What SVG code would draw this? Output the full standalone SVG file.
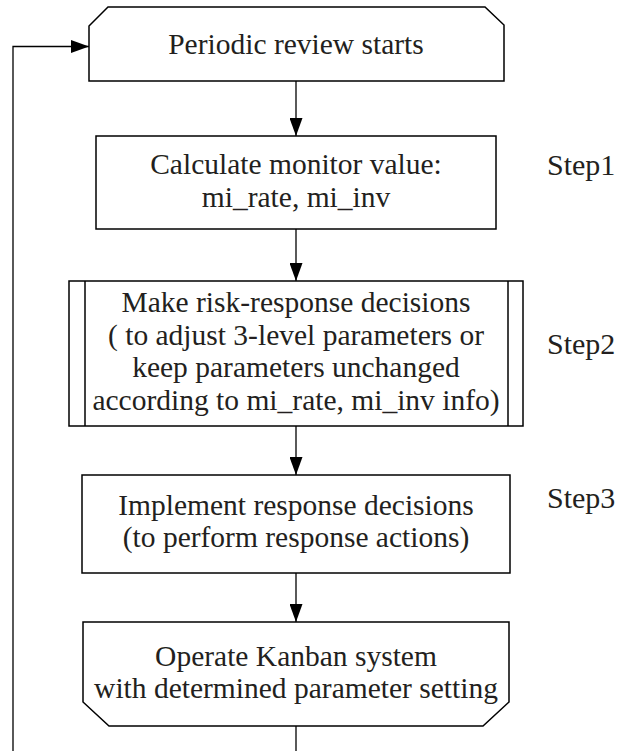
<svg xmlns="http://www.w3.org/2000/svg" width="630" height="751" viewBox="0 0 630 751">
<defs>
<marker id="arr" viewBox="0 0 18 13" refX="18" refY="6.5" markerWidth="18" markerHeight="13" markerUnits="userSpaceOnUse" orient="auto">
<path d="M0,0 L18,6.5 L0,13 Z" fill="#000"/>
</marker>
<style>
.box{fill:#fff;stroke:#000;stroke-width:1.5}
.ln{fill:none;stroke:#000;stroke-width:1.3}
text{font-family:"Liberation Serif","Times New Roman",serif;font-size:29.5px;fill:#231f20}
.c{text-anchor:middle}
.s{font-size:30px}
</style>
</defs>
<rect width="630" height="751" fill="#fff"/>
<g id="connectors">
<line class="ln" x1="296" y1="81" x2="296" y2="136" marker-end="url(#arr)"/>
<line class="ln" x1="296" y1="229" x2="296" y2="281" marker-end="url(#arr)"/>
<line class="ln" x1="296" y1="426" x2="296" y2="475" marker-end="url(#arr)"/>
<line class="ln" x1="296" y1="573" x2="296" y2="622" marker-end="url(#arr)"/>
<line class="ln" x1="296" y1="726" x2="296" y2="751"/>
<polyline class="ln" points="13,751 13,46.5 89,46.5" marker-end="url(#arr)"/>
</g>
<g id="start">
<path class="box" d="M89,26 L108,7 L485,7 L504,25 L504,81 L89,81 Z"/>
<text class="c" x="296" y="53.5">Periodic review starts</text>
</g>
<g id="step1">
<rect class="box" x="96" y="136" width="400" height="93"/>
<text class="c" x="296" y="174">Calculate monitor value:</text>
<text class="c" x="296" y="207">mi_rate, mi_inv</text>
</g>
<g id="step2">
<rect class="box" x="69" y="281" width="454" height="145"/>
<line class="box" x1="85" y1="281" x2="85" y2="426"/>
<line class="box" x1="508" y1="281" x2="508" y2="426"/>
<text class="c" x="296" y="312">Make risk-response decisions</text>
<text class="c" x="296" y="344.5">( to adjust 3-level parameters or</text>
<text class="c" x="296" y="377">keep parameters unchanged</text>
<text class="c" x="296" y="409.5">according to mi_rate, mi_inv info)</text>
</g>
<g id="step3">
<rect class="box" x="82" y="475" width="428" height="98"/>
<text class="c" x="296" y="515">Implement response decisions</text>
<text class="c" x="296" y="547">(to perform response actions)</text>
</g>
<g id="operate">
<path class="box" d="M83,622 L509,622 L509,702 L483,726 L109,726 L83,702 Z"/>
<text class="c" x="296" y="666">Operate Kanban system</text>
<text class="c" x="296" y="698">with determined parameter setting</text>
</g>
<g id="labels">
<text class="s" x="547" y="175">Step1</text>
<text class="s" x="547" y="354">Step2</text>
<text class="s" x="547" y="508">Step3</text>
</g>
</svg>
